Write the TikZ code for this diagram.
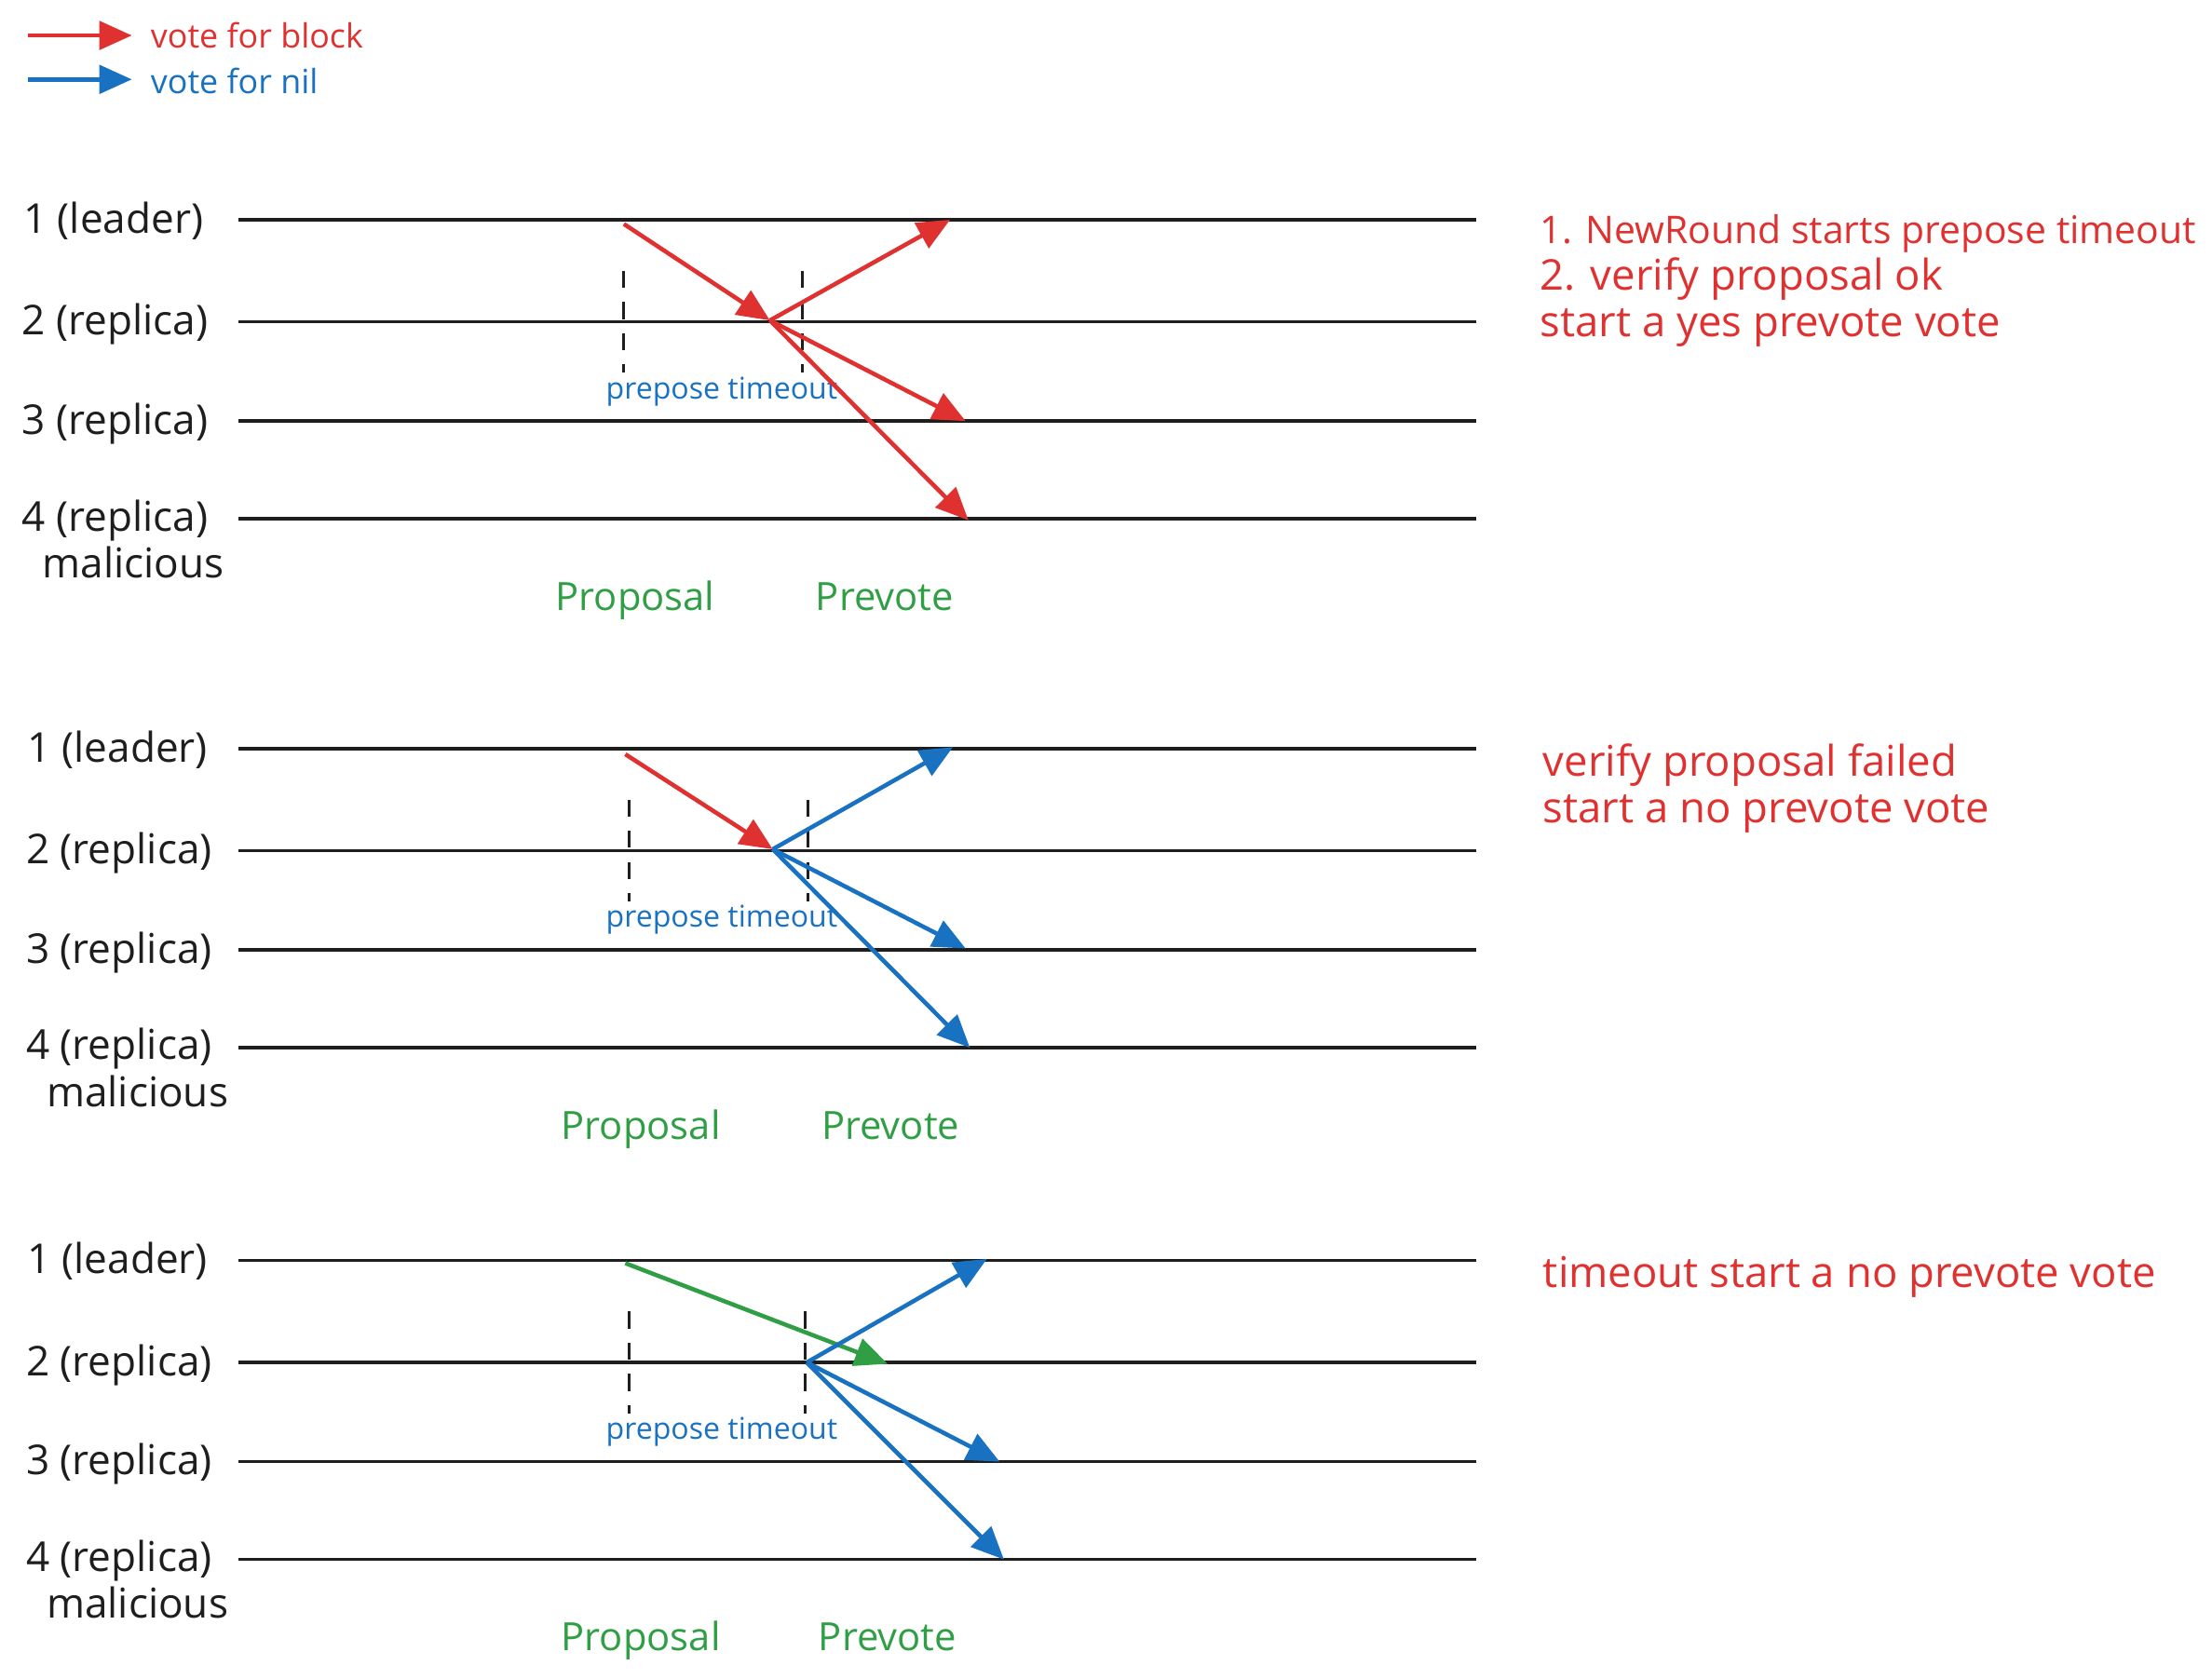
\documentclass[tikz,border=0pt]{standalone}
\usepackage{fontspec}
\setmainfont{Open Sans}
\usetikzlibrary{arrows.meta}
\definecolor{votered}{HTML}{E03131}
\definecolor{voteblue}{HTML}{1971C2}
\definecolor{phasegreen}{HTML}{2F9E44}
\definecolor{inkblack}{HTML}{1E1E1E}

\begin{document}
\begin{tikzpicture}[x = 0.02cm, y = -0.02cm,
        lane/.style = {draw = inkblack, line width = 1.3pt},
        tick/.style = {draw = inkblack, line width = 1.1pt, dash pattern = on 0.24cm off 0.2cm},
        vote/.style = {line width = 1.7pt, -{Triangle[length = 0.46cm, width = 0.4cm]}},
        forblock/.style = {vote, draw = votered},
        fornil/.style = {vote, draw = voteblue},
        forphase/.style = {vote, draw = phasegreen},
        who/.style = {text = inkblack, text height = 0.75em, text depth = 0.25em, font = \fontsize{16.5}{20}\selectfont},
        phase/.style = {text = phasegreen, text height = 0.75em, text depth = 0.25em, font = \fontsize{15.6}{19}\selectfont},
        timer/.style = {text = voteblue, font = \fontsize{12}{14}\selectfont},
        keytext/.style = {anchor = west, inner sep = 0pt, font = \fontsize{13.4}{16}\selectfont},
        note/.style = {text = votered, anchor = west, align = left, inner sep = 0pt, font = \fontsize{17}{18.8}\selectfont}]

        \useasboundingbox (0, 0) rectangle (1560, 1184);

        \coordinate (ka) at (20, 25);
        \coordinate (kb) at (93, 25);
        \coordinate (kc) at (20, 56);
        \coordinate (kd) at (93, 56);
        \draw [forblock] (ka) -- (kb);
        \draw [fornil] (kc) -- (kd);
        \node [keytext, text = votered] (kblock) at (106, 25) {vote for block};
        \node [keytext, text = voteblue] (knil) at (106, 57) {vote for nil};

        \foreach \p/\off in {1/0, 2/373, 3/734} {
                \foreach \i/\dy in {1/0, 2/72, 3/142, 4/211} {
                        \coordinate (w\p\i) at (168, 155 + \off + \dy);
                        \coordinate (e\p\i) at (1041, 155 + \off + \dy);
                        \draw [lane] (w\p\i) -- (e\p\i);
                    }
            }

        \foreach \p/\off/\lx in {1/0/80, 2/373/83, 3/734/83} {
                \node [who] (lead\p) at (\lx, 160 + \off) {1 (leader)};
                \node [who] (repa\p) at (\lx + 1, 232 + \off) {2 (replica)};
                \node [who] (repb\p) at (\lx + 1, 302 + \off) {3 (replica)};
                \node [who] (repc\p) at (\lx + 1, 370 + \off) {4 (replica)};
                \node [who] (bad\p) at (\lx + 14, 403 + \off) {malicious};
            }

        \foreach \p/\off/\xa/\xb in {1/0/440/566, 2/373/444/570, 3/734/444/568} {
                \coordinate (ta\p) at (\xa, 191 + \off);
                \coordinate (tb\p) at (\xa, 263 + \off);
                \coordinate (tc\p) at (\xb, 191 + \off);
                \coordinate (td\p) at (\xb, 263 + \off);
                \draw [tick] (ta\p) -- (tb\p);
                \draw [tick] (tc\p) -- (td\p);
                \node [timer] (wait\p) at (509, 276 + \off) {prepose timeout};
                \node [phase] (prop\p) at (\xa + 8, 426 + \off) {Proposal};
                \node [phase] (prev\p) at (\xb + 58, 426 + \off) {Prevote};
            }

        \coordinate (pp1) at (440, 158);
        \coordinate (rx1) at (543, 226);
        \coordinate (to11) at (670, 155);
        \coordinate (to13) at (681, 297);
        \coordinate (to14) at (683, 367);
        \draw [forblock] (pp1) -- (rx1);
        \draw [forblock] (rx1) -- (to11);
        \draw [forblock] (rx1) -- (to13);
        \draw [forblock] (rx1) -- (to14);

        \coordinate (pp2) at (441, 532);
        \coordinate (rx2) at (545, 599);
        \coordinate (to21) at (672, 527);
        \coordinate (to23) at (681, 669);
        \coordinate (to24) at (684, 739);
        \draw [forblock] (pp2) -- (rx2);
        \draw [fornil] (rx2) -- (to21);
        \draw [fornil] (rx2) -- (to23);
        \draw [fornil] (rx2) -- (to24);

        \coordinate (pp3) at (441, 891);
        \coordinate (late3) at (626, 962);
        \coordinate (rx3) at (569, 961);
        \coordinate (to31) at (696, 888);
        \coordinate (to33) at (705, 1031);
        \coordinate (to34) at (708, 1100);
        \draw [forphase] (pp3) -- (late3);
        \draw [fornil] (rx3) -- (to31);
        \draw [fornil] (rx3) -- (to33);
        \draw [fornil] (rx3) -- (to34);

        \node [note] (why1) at (1086, 198) {{\fontsize{15.3}{18.8}\selectfont 1. NewRound starts prepose timeout}\\2. verify proposal ok\\start a yes prevote vote};
        \node [note] (why2) at (1088, 556) {verify proposal failed\\start a no prevote vote};
        \node [note] (why3) at (1088, 901) {timeout start a no prevote vote};

    \end{tikzpicture}
\end{document}
